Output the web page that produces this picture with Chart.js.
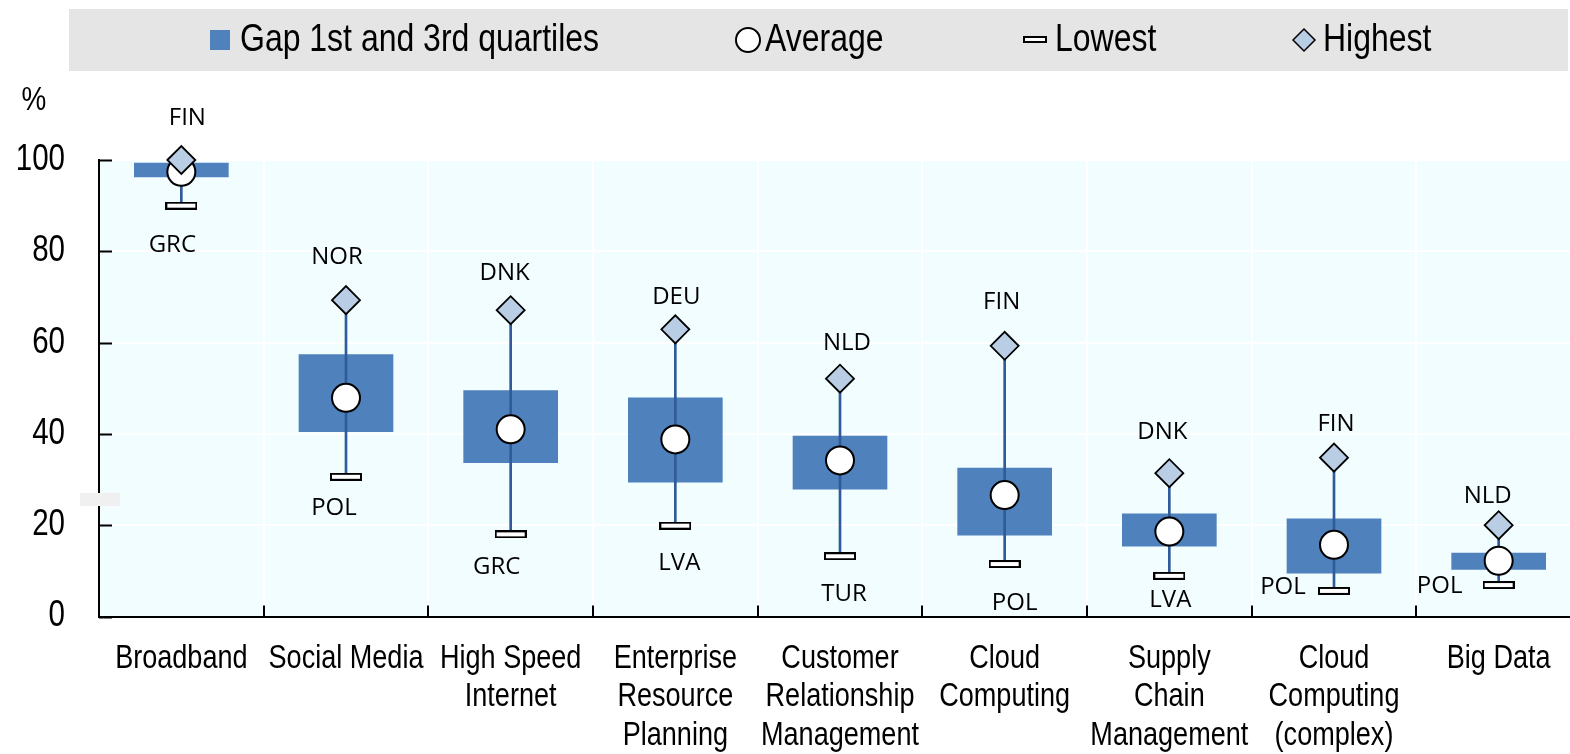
<!DOCTYPE html>
<html><head><meta charset="utf-8">
<script src="https://cdn.jsdelivr.net/npm/chart.js@4.4.1/dist/chart.umd.min.js"></script>
<style>
html,body{margin:0;padding:0;overflow:hidden;background:#fff;width:1570px;height:754px}
#wrap{position:absolute;left:0;top:0;width:1582px;height:754px}
canvas{display:block}
</style>
</head><body><div id="wrap"><canvas id="c" width="1582" height="754"></canvas></div>
<script>
// ---- data ----
const categories = [
  ['Broadband'], ['Social Media'], ['High Speed', 'Internet'],
  ['Enterprise', 'Resource', 'Planning'], ['Customer', 'Relationship', 'Management'],
  ['Cloud', 'Computing'], ['Supply', 'Chain', 'Management'],
  ['Cloud', 'Computing', '(complex)'], ['Big Data']
];
const quartile1 = [96.3, 40.5, 33.7, 29.4, 27.9, 17.8, 15.4, 9.5, 10.3];
const quartile3 = [99.3, 57.4, 49.5, 47.9, 39.5, 32.5, 22.5, 21.4, 13.9];
const average   = [97.4, 47.9, 41.0, 38.8, 34.2, 26.6, 18.6, 15.7, 12.2];
const lowest    = [90.0, 30.6, 18.0, 19.9, 13.2, 11.5, 8.9, 5.6, 6.9];
const highest   = [100.0, 69.3, 67.1, 62.9, 52.1, 59.3, 31.4, 34.8, 20.0];
const lowestCountry  = ['GRC', 'POL', 'GRC', 'LVA', 'TUR', 'POL', 'LVA', 'POL', 'POL'];
const highestCountry = ['FIN', 'NOR', 'DNK', 'DEU', 'NLD', 'FIN', 'DNK', 'FIN', 'NLD'];
const yTicks = [0, 20, 40, 60, 80, 100];
const yUnit = '%';
const seriesNames = ['Gap 1st and 3rd quartiles', 'Average', 'Lowest', 'Highest'];

// ---- styling / layout (not data) ----
const SANS = '"Liberation Sans", Arial, sans-serif';
const NARROW_SCALE = 0.82; // Arial Narrow look
const LABEL_FONT = '"Open Sans", "Noto Sans", sans-serif';
const BOX_COLOR = '#4f81bd';
const WHISKER_COLOR = '#2f5b9a';
const DIAMOND_COLOR = '#b9cde5';
// label nudges in pixels relative to the marker
const highNudge = [[6,-42],[-9,-43],[-6,-37],[1,-32],[7,-36],[-3,-44],[-7,-41],[2,-33],[-11,-29]];
const lowNudge  = [[-9,40],[-12,31],[-14,33],[4,37],[4,38],[10,39],[1,24],[-51,-4],[-59,1]];

function lowMarker(w, h) {
  const c = document.createElement('canvas');
  c.width = w; c.height = h;
  const g = c.getContext('2d');
  g.fillStyle = '#fff'; g.fillRect(0, 0, w, h);
  g.strokeStyle = '#000'; g.lineWidth = 2; g.strokeRect(1, 1, w - 2, h - 2);
  return c;
}
const lowImg = lowMarker(32, 8);
const lowImgLegend = lowMarker(24, 7);

function narrowText(ctx, text, x, y, size, align) {
  ctx.save();
  ctx.translate(x, y);
  ctx.scale(NARROW_SCALE, 1);
  ctx.font = size + 'px ' + SANS;
  ctx.textAlign = align;
  ctx.textBaseline = 'middle';
  ctx.fillStyle = '#000';
  ctx.fillText(text, 0, 0);
  ctx.restore();
}

const decorPlugin = {
  id: 'decor',
  beforeDraw(chart) {
    const {ctx, chartArea: a} = chart;
    ctx.save();
    ctx.fillStyle = '#f2fdff';
    ctx.fillRect(a.left, a.top, a.right - a.left, a.bottom - a.top);
    ctx.fillStyle = '#e5e5e5';
    ctx.fillRect(69, 9, 1499, 62);
    ctx.restore();
  },
  afterDraw(chart) {
    const {ctx, chartArea: a, scales: {x, y}} = chart;
    ctx.save();
    // inward tick marks
    ctx.strokeStyle = '#000'; ctx.lineWidth = 2;
    ctx.beginPath();
    yTicks.forEach(v => {
      const py = Math.round(y.getPixelForValue(v)) + 0.5;
      ctx.moveTo(a.left, py); ctx.lineTo(a.left + 13, py);
    });
    for (let i = 1; i < categories.length; i++) {
      const px = Math.round((x.getPixelForValue(i - 1) + x.getPixelForValue(i)) / 2);
      ctx.moveTo(px, a.bottom); ctx.lineTo(px, a.bottom - 11);
    }
    ctx.stroke();
    // y tick labels
    yTicks.forEach(v => narrowText(ctx, String(v), 65, y.getPixelForValue(v), 36, 'right'));
    // x category labels
    categories.forEach((lines, i) => {
      const px = x.getPixelForValue(i);
      lines.forEach((t, k) => narrowText(ctx, t, px, a.bottom + 42 + k * 38.5, 33, 'center'));
    });
    // axis unit
    narrowText(ctx, yUnit, 34, 101, 34, 'center');
    // small grey mark on the axis
    ctx.fillStyle = '#f0f0f0';
    ctx.fillRect(80, 493, 40, 13);
    // country labels
    ctx.fillStyle = '#000';
    ctx.font = '24px ' + LABEL_FONT;
    ctx.textAlign = 'center'; ctx.textBaseline = 'middle';
    const hi = chart.getDatasetMeta(4).data, lo = chart.getDatasetMeta(2).data;
    hi.forEach((p, i) => ctx.fillText(highestCountry[i], p.x + highNudge[i][0], p.y + highNudge[i][1]));
    lo.forEach((p, i) => ctx.fillText(lowestCountry[i], p.x + lowNudge[i][0], p.y + lowNudge[i][1]));
    // legend
    const ly = 40;
    ctx.fillStyle = BOX_COLOR; ctx.fillRect(210, 30, 20, 20);
    narrowText(ctx, seriesNames[0], 240, ly, 39, 'left');
    ctx.beginPath(); ctx.arc(748, ly, 12, 0, Math.PI * 2);
    ctx.fillStyle = '#fff'; ctx.fill(); ctx.strokeStyle = '#000'; ctx.lineWidth = 2; ctx.stroke();
    narrowText(ctx, seriesNames[1], 765, ly, 39, 'left');
    ctx.drawImage(lowImgLegend, 1023, 36);
    narrowText(ctx, seriesNames[2], 1055, ly, 39, 'left');
    ctx.beginPath(); ctx.moveTo(1293, ly); ctx.lineTo(1304, ly - 11); ctx.lineTo(1315, ly); ctx.lineTo(1304, ly + 11); ctx.closePath();
    ctx.fillStyle = DIAMOND_COLOR; ctx.fill(); ctx.lineWidth = 1.5; ctx.strokeStyle = '#000'; ctx.stroke();
    narrowText(ctx, seriesNames[3], 1323, ly, 39, 'left');
    ctx.restore();
  }
};

new Chart(document.getElementById('c'), {
  type: 'bar',
  data: {
    labels: categories,
    datasets: [
      { label: seriesNames[0], data: quartile1.map((v, i) => [v, quartile3[i]]),
        backgroundColor: BOX_COLOR, barThickness: 94, grouped: false, order: 5, borderWidth: 0 },
      { label: 'whisker', data: lowest.map((v, i) => [v, highest[i]]),
        backgroundColor: WHISKER_COLOR, barThickness: 2, grouped: false, order: 4, borderWidth: 0 },
      { label: seriesNames[2], type: 'line', data: lowest, showLine: false, clip: false,
        pointStyle: lowImg, pointRadius: 5, pointHoverRadius: 5, order: 3 },
      { label: seriesNames[1], type: 'line', data: average, showLine: false, clip: false,
        pointStyle: 'circle', pointRadius: 14, pointBorderWidth: 2, pointBackgroundColor: '#fff',
        pointBorderColor: '#000', order: 2 },
      { label: seriesNames[3], type: 'line', data: highest, showLine: false, clip: false,
        pointStyle: 'rectRot', pointRadius: 14, pointBorderWidth: 1.8, pointBackgroundColor: DIAMOND_COLOR,
        pointBorderColor: '#000', order: 1 }
    ]
  },
  options: {
    responsive: false,
    animation: false,
    events: [],
    layout: { autoPadding: false, padding: { top: 160, right: 1, bottom: 0, left: 0 } },
    plugins: { legend: { display: false }, tooltip: { enabled: false } },
    scales: {
      x: {
        offset: true,
        grid: { offset: true, color: '#ffffff', lineWidth: 2, drawTicks: false },
        border: { display: true, color: '#000', width: 2 },
        ticks: { display: false, autoSkip: false, maxRotation: 0 },
        afterFit(s) { s.height = 137.5; }
      },
      y: {
        min: yTicks[0], max: yTicks[yTicks.length - 1],
        afterBuildTicks(s) { s.ticks = yTicks.map(v => ({ value: v })); },
        grid: { color: '#ffffff', lineWidth: 2, drawTicks: false },
        border: { display: true, color: '#000', width: 2 },
        ticks: { display: false },
        afterFit(s) { s.width = 99; }
      }
    }
  },
  plugins: [decorPlugin]
});
</script>
</body></html>
